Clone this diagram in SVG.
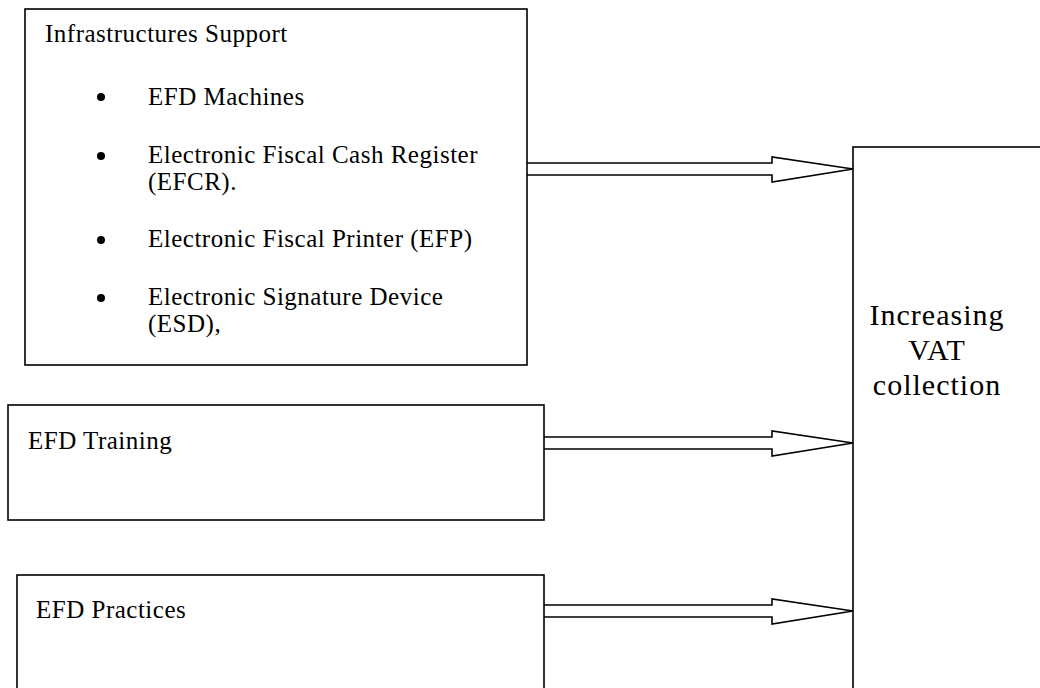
<svg xmlns="http://www.w3.org/2000/svg" width="1040" height="688" viewBox="0 0 1040 688">
  <style>
    .box { fill: #ffffff; stroke: #000000; stroke-width: 1.6; }
    .arrow { fill: #ffffff; stroke: #000000; stroke-width: 1.6; stroke-linejoin: miter; }
    .t { font-family: "Liberation Serif", "Times New Roman", serif; font-size: 25px; letter-spacing: 0.5px; fill: #000000; }
    .big { font-family: "Liberation Serif", "Times New Roman", serif; font-size: 30px; letter-spacing: 1px; fill: #000000; text-anchor: middle; }
    .bullet { fill: #000000; }
  </style>
  <rect width="1040" height="688" fill="#ffffff"/>

  <g id="connectors">
    <path class="arrow" d="M527,163 L772,163 L772,157 L853,169 L772,182 L772,175 L527,175"/>
    <path class="arrow" d="M544,437 L772,437 L772,431 L853,443 L772,456 L772,449 L544,449"/>
    <path class="arrow" d="M544,605 L772,605 L772,599 L853,611 L772,624 L772,617 L544,617"/>
  </g>

  <g id="infrastructures">
    <rect class="box" x="25" y="9" width="502" height="356"/>
    <text class="t" x="45" y="42">Infrastructures Support</text>
    <circle class="bullet" cx="101" cy="97" r="4"/>
    <text class="t" x="148" y="105">EFD Machines</text>
    <circle class="bullet" cx="101" cy="156" r="4"/>
    <text class="t" x="148" y="163">Electronic Fiscal Cash Register</text>
    <text class="t" x="148" y="190">(EFCR).</text>
    <circle class="bullet" cx="101" cy="240" r="4"/>
    <text class="t" x="148" y="247">Electronic Fiscal Printer (EFP)</text>
    <circle class="bullet" cx="101" cy="298" r="4"/>
    <text class="t" x="148" y="305">Electronic Signature Device</text>
    <text class="t" x="148" y="332">(ESD),</text>
  </g>

  <g id="training">
    <rect class="box" x="8" y="405" width="536" height="115"/>
    <text class="t" x="28" y="449">EFD Training</text>
  </g>

  <g id="practices">
    <rect class="box" x="17" y="575" width="527" height="120"/>
    <text class="t" x="36" y="618">EFD Practices</text>
  </g>

  <g id="vat">
    <rect class="box" x="853" y="147" width="200" height="560"/>
    <text class="big" x="937" y="325">Increasing</text>
    <text class="big" x="937" y="360">VAT</text>
    <text class="big" x="937" y="395">collection</text>
  </g>
</svg>
